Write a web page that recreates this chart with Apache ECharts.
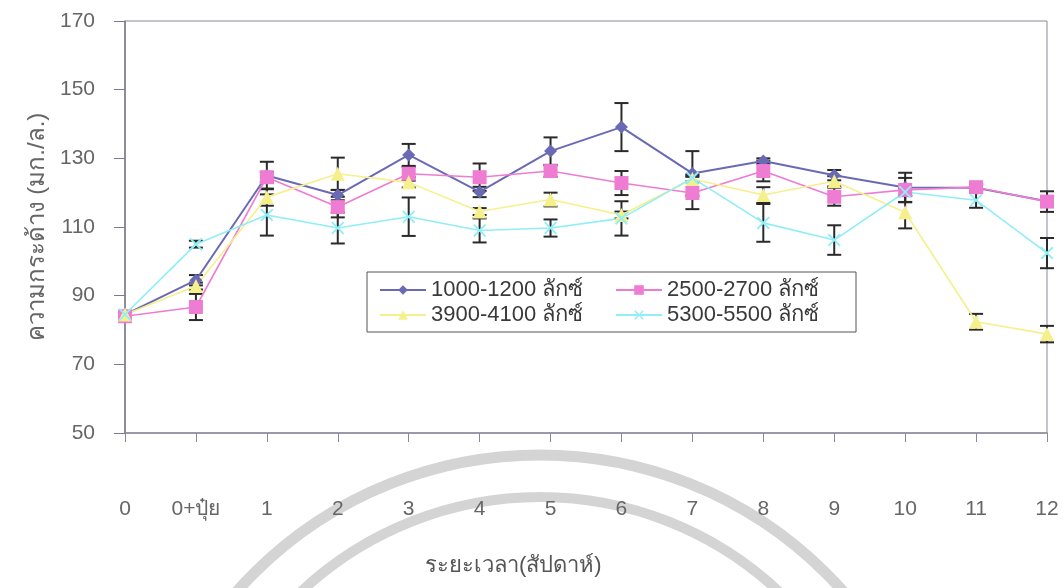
<!DOCTYPE html>
<html><head><meta charset="utf-8">
<script src="https://cdn.jsdelivr.net/npm/echarts@6/dist/echarts.min.js"></script>
<style>html,body{margin:0;padding:0;background:#fff}#c{width:1063px;height:588px}</style>
</head><body><div id="c"></div>
<script>
const categories = ['0','0+ปุ๋ย','1','2','3','4','5','6','7','8','9','10','11','12'];
const seriesNames = ['1000-1200 ลักซ์','2500-2700 ลักซ์','3900-4100 ลักซ์','5300-5500 ลักซ์'];
const lux1000 = [84.5, 94.5, 125, 119.3, 131, 120.2, 132.1, 139.1, 125.6, 129.2, 125.1, 121.5, 121.4, 117.5];
const lux2500 = [84, 86.7, 124.5, 115.8, 125.5, 124.5, 126.3, 122.8, 119.9, 126.3, 118.8, 120.8, 121.6, 117.4];
const lux3900 = [84.5, 92.8, 118.7, 125.5, 123, 114.5, 118, 113.5, 124, 119.3, 123.3, 114.3, 82.4, 78.8];
const lux5300 = [84.5, 105, 113.5, 109.7, 113, 109, 109.7, 112.5, 124.3, 111.2, 106.2, 120.2, 117.8, 102.4];
const err1000 = [0.5, 1.5, 4, 1.5, 3.2, 1.5, 4, 7, 6.5, 0.8, 1.5, 4.3, 1, 1];
const err2500 = [0.5, 3.8, 1.5, 3, 2, 4, 1.7, 3.5, 4.7, 3, 2.6, 3.5, 1, 3];
const err3900 = [0.5, 1, 2.5, 4.7, 1.5, 1, 2, 1, 1, 2.3, 1.5, 4.7, 2.3, 2.4];
const err5300 = [0.5, 1, 6, 4.5, 5.6, 3.5, 2.5, 5, 1, 5.5, 4.3, 1, 2.2, 4.4];
const yTicks = {min: 50, max: 170, interval: 20};

const FONT = "'Liberation Sans Narrow', 'Liberation Sans', Arial, sans-serif";
const colors = ['#6a6ab4', '#ee7cd2', '#f6f08c', '#90eef6'];
const symbols = ['diamond', 'rect', 'triangle',
  'path://M0,1 L1,0 L5,4 L9,0 L10,1 L6,5 L10,9 L9,10 L5,6 L1,10 L0,9 L4,5 Z'];
const symbolSizes = [13, 14, 14, 13];
const values = [lux1000, lux2500, lux3900, lux5300];
const errs = [err1000, err2500, err3900, err5300];

function errSeries(vals, e) {
  return {
    type: 'custom', silent: true, z: 3,
    data: vals.map((v, i) => [i, v - e[i], v + e[i]]),
    encode: {x: 0, y: [1, 2]},
    renderItem(params, api) {
      const x = api.value(0);
      const lo = api.coord([x, api.value(1)]);
      const hi = api.coord([x, api.value(2)]);
      const w = 7;
      const st = {stroke: '#2a2a2a', lineWidth: 2};
      return {type: 'group', children: [
        {type: 'line', shape: {x1: lo[0], y1: lo[1], x2: hi[0], y2: hi[1]}, style: st},
        {type: 'line', shape: {x1: lo[0] - w, y1: lo[1], x2: lo[0] + w, y2: lo[1]}, style: st},
        {type: 'line', shape: {x1: hi[0] - w, y1: hi[1], x2: hi[0] + w, y2: hi[1]}, style: st}
      ]};
    }
  };
}

const lineSeries = seriesNames.map((n, k) => ({
  name: n, type: 'line', data: values[k], z: 4,
  symbol: symbols[k], symbolSize: symbolSizes[k], showAllSymbol: true,
  lineStyle: {color: colors[k], width: k === 0 ? 2 : 1.6},
  itemStyle: {color: colors[k]},
  emphasis: {disabled: true}
}));

const chart = echarts.init(document.getElementById('c'));
chart.setOption({
  animation: false,
  backgroundColor: '#fff',
  grid: {left: 125, right: 16, top: 21, bottom: 155, show: true, borderColor: '#8a8a9c', borderWidth: 1},
  xAxis: {
    type: 'category', data: categories, boundaryGap: false,
    axisLine: {lineStyle: {color: '#8a8a9c', width: 1.5}},
    axisTick: {show: true, length: 9, inside: false, alignWithLabel: true, lineStyle: {color: '#8a8a9c'}},
    axisLabel: {margin: 66, color: '#666', fontSize: 21, fontFamily: FONT},
    splitLine: {show: false}
  },
  yAxis: {
    type: 'value', min: yTicks.min, max: yTicks.max, interval: yTicks.interval,
    name: 'ความกระด้าง (มก./ล.)', nameLocation: 'middle', nameGap: 75, nameRotate: 90,
    nameTextStyle: {color: '#666', fontSize: 24, fontFamily: FONT},
    axisLine: {show: true, lineStyle: {color: '#7a7a8c', width: 1.5}},
    axisTick: {show: true, length: 11, lineStyle: {color: '#7a7a8c'}},
    axisLabel: {margin: 30, color: '#666', fontSize: 21, fontFamily: FONT},
    splitLine: {show: false}
  },
  legend: {
    data: seriesNames, left: 367, top: 272, width: 530,
    orient: 'horizontal', padding: [7, 8, 6, 12], itemGap: 3,
    itemWidth: 46, itemHeight: 12,
    borderColor: '#555', borderWidth: 1, borderRadius: 0, backgroundColor: '#fff',
    textStyle: {color: '#3a3a3a', fontSize: 22, lineHeight: 20, width: 181, fontFamily: FONT}
  },
  graphic: [
    {type: 'arc', z: -10, silent: true, shape: {cx: 540, cy: 860, r: 405, startAngle: Math.PI, endAngle: 2 * Math.PI},
     style: {stroke: '#d4d4d4', lineWidth: 11, fill: null}},
    {type: 'arc', z: -10, silent: true, shape: {cx: 540, cy: 846, r: 349, startAngle: Math.PI, endAngle: 2 * Math.PI},
     style: {stroke: '#d4d4d4', lineWidth: 10, fill: null}},
    {type: 'text', left: 425, top: 555, z: 10,
     style: {text: 'ระยะเวลา(สัปดาห์)', fill: '#555', fontSize: 22, fontFamily: FONT}}
  ],
  series: [...values.map((v, k) => errSeries(v, errs[k])), ...lineSeries]
});
</script>
</body></html>
